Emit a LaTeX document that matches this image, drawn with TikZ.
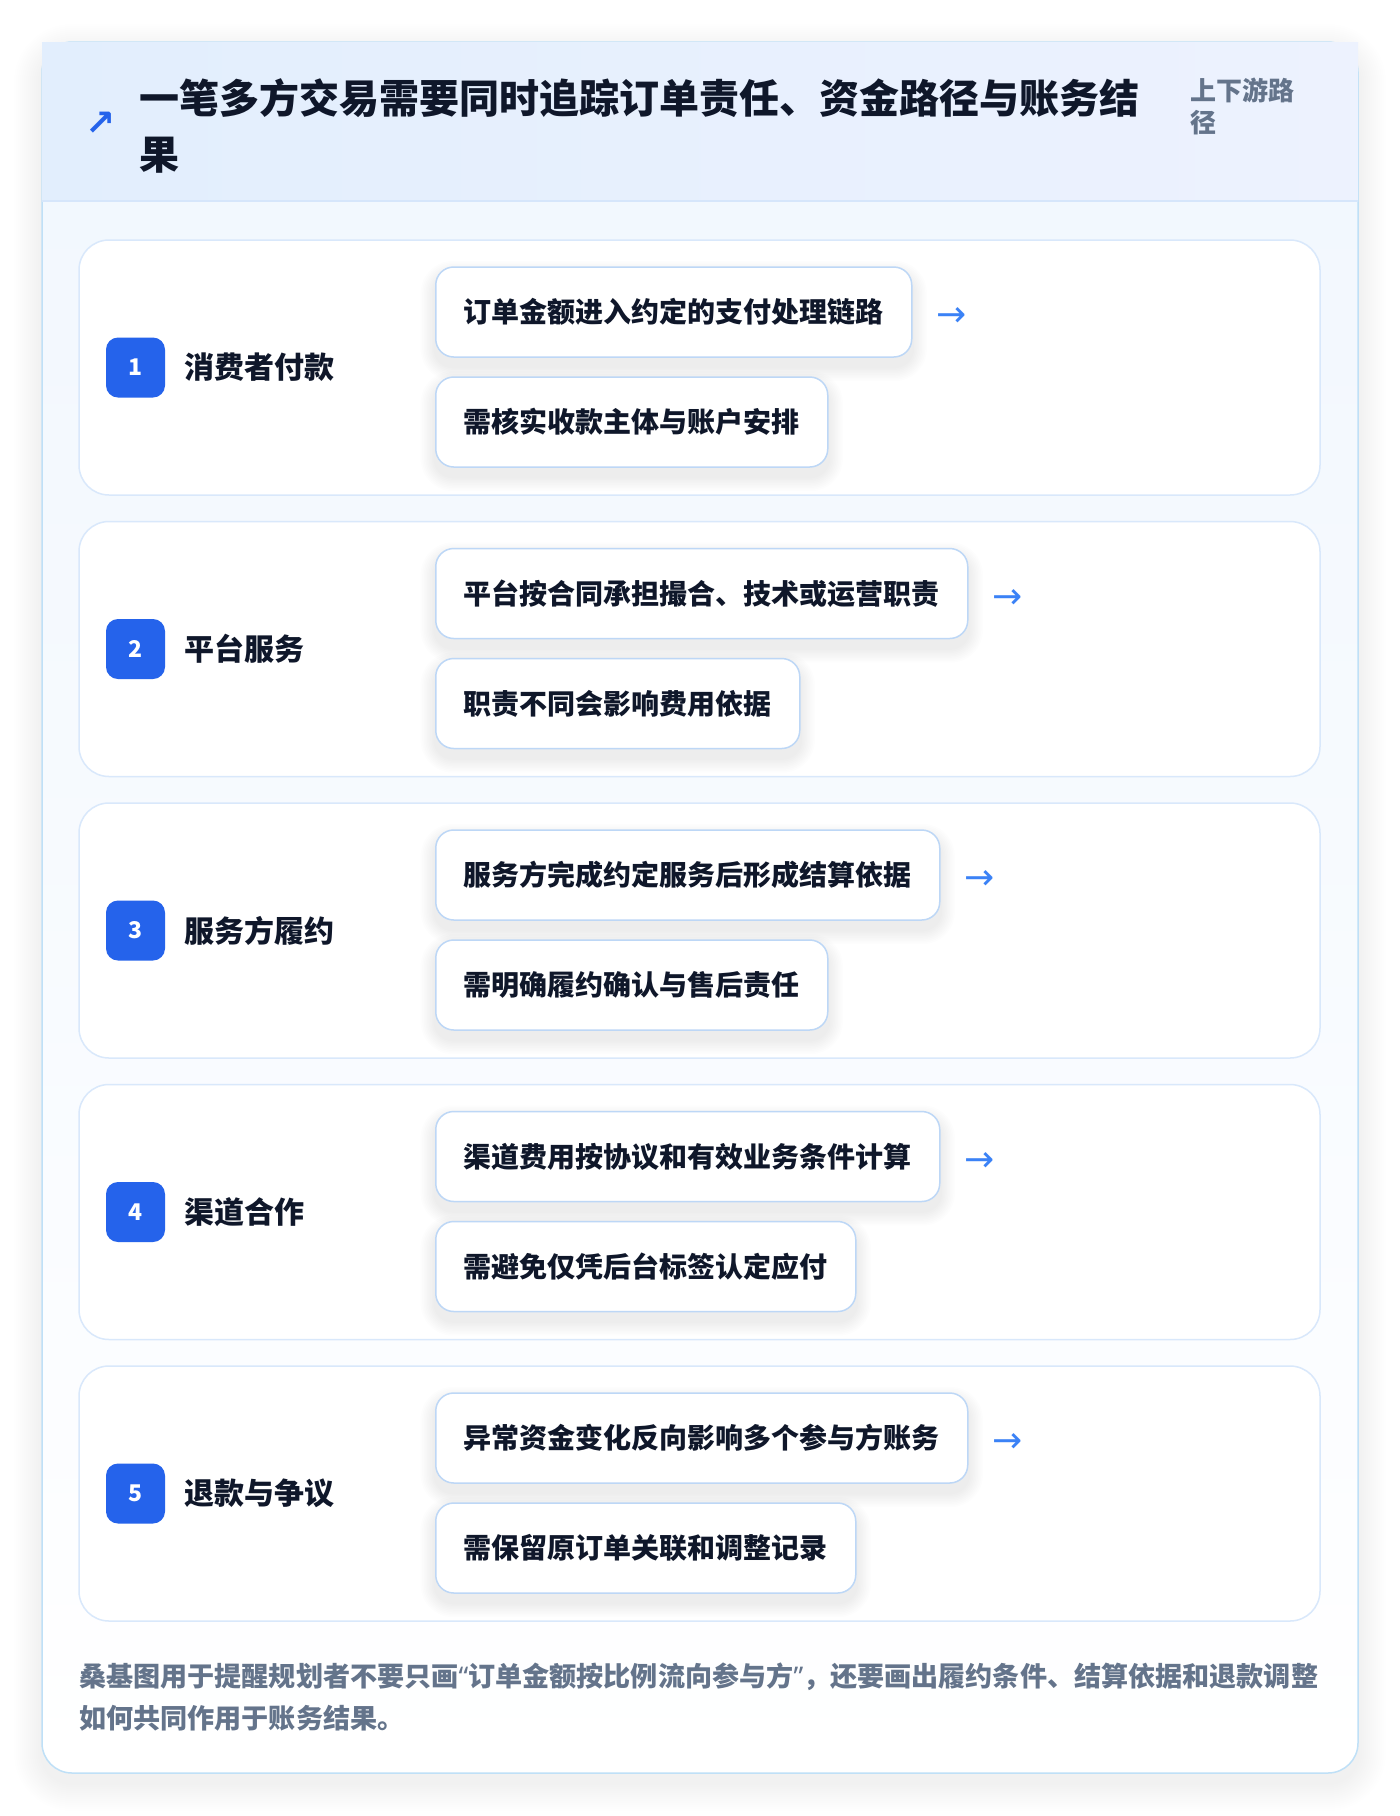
\documentclass[tikz,border=0pt]{standalone}
\usepackage{fontspec}
\setmainfont{Noto Sans CJK SC}
\newfontfamily\dejavu{DejaVu Sans}
\newfontfamily\latinq{Noto Sans}
\definecolor{headL}{HTML}{E2EEFD}
\definecolor{headR}{HTML}{EDF2FE}
\definecolor{headLine}{HTML}{D6E6FB}
\definecolor{cardBorder}{HTML}{BFE0F7}
\definecolor{cardTop}{HTML}{F1F7FE}
\definecolor{rowBorder}{HTML}{D9E8FB}
\definecolor{subBorder}{HTML}{BDD7F6}
\definecolor{badgeBlue}{HTML}{2563EB}
\definecolor{ink}{HTML}{0F172A}
\definecolor{slate}{HTML}{64748B}
\definecolor{arrBlue}{HTML}{3B82F6}
\pgfdeclarelayer{bg}
\pgfdeclarelayer{shade}
\pgfsetlayers{bg,shade,main}
\tikzset{
  rowbox/.style={draw=rowBorder, line width=1.5pt, fill=white, rounded corners=30pt,
    minimum width=1241pt, minimum height=255pt, inner sep=0pt},
  badge/.style={fill=badgeBlue, rounded corners=12pt, minimum width=59pt, minimum height=60pt,
    inner sep=0pt, text=white, font=\fontsize{23}{26}\selectfont\bfseries},
  lab/.style={inner sep=0pt, text=ink, font=\fontsize{30}{36}\selectfont\bfseries},
  subbox/.style={draw=subBorder, line width=1.5pt, fill=white, rounded corners=18pt,
    minimum height=90pt, inner xsep=28pt, inner ysep=0pt, text=ink,
    font=\fontsize{28}{32}\selectfont\bfseries},
  arr/.style={inner sep=0pt, text=arrBlue, font=\dejavu\fontsize{36}{36}\selectfont},
  foot/.style={inner sep=0pt, anchor=west, text=slate, font=\fontsize{27.1}{30}\selectfont\bfseries},
}
\begin{document}
\begin{tikzpicture}[x=1pt,y=-1pt]
\useasboundingbox (0,0) rectangle (1400,1816);
\begin{pgfonlayer}{bg}
\fill[white] (0,0) rectangle (1400,1816);
% soft shadow of outer card
\foreach \k in {1,...,14}{
  \fill[black, opacity=0.005, rounded corners={30+2*\k}]
    ({42-2*\k},{42-2*\k+10}) rectangle ({1358+2*\k},{1773+2*\k+10});
}
\path[rounded corners=30pt, top color=cardTop, bottom color=white, middle color=cardTop!55!white]
  (42,42) rectangle (1358,1773);
\draw[rounded corners=30pt, draw=cardBorder, line width=1.5pt] (42,42) rectangle (1358,1773);
% header
\path[left color=headL, right color=headR] (42,42) rectangle (1358,201);
\draw[headLine, line width=1.5pt] (42,201) -- (1358,201);
\end{pgfonlayer}
\node[inner sep=0pt, text=badgeBlue, font=\dejavu\bfseries\fontsize{36}{36}\selectfont] (icon) at (101,124) {↗};
\node[inner sep=0pt, anchor=west, text=ink, font=\fontsize{40}{48}\selectfont\bfseries] (title1) at (139,98) {一笔多方交易需要同时追踪订单责任、资金路径与账务结};
\node[inner sep=0pt, anchor=west, text=ink, font=\fontsize{40}{48}\selectfont\bfseries] (title2) at (139,155) {果};
\node[inner sep=0pt, anchor=west, text=slate, font=\fontsize{26}{30}\selectfont\bfseries] (tag1) at (1190,90) {上下游路};
\node[inner sep=0pt, anchor=west, text=slate, font=\fontsize{26}{30}\selectfont\bfseries] (tag2) at (1190,123) {径};
% rows
\foreach \i/\lab/\ta/\tb in {
  1/消费者付款/订单金额进入约定的支付处理链路/需核实收款主体与账户安排,
  2/平台服务/平台按合同承担撮合、技术或运营职责/职责不同会影响费用依据,
  3/服务方履约/服务方完成约定服务后形成结算依据/需明确履约确认与售后责任,
  4/渠道合作/渠道费用按协议和有效业务条件计算/需避免仅凭后台标签认定应付,
  5/退款与争议/异常资金变化反向影响多个参与方账务/需保留原订单关联和调整记录}
{
  \pgfmathsetmacro\cy{367.5+281.5*(\i-1)}
  \begin{pgfonlayer}{bg}
    \node[rowbox] (row\i) at (699.5,\cy) {};
  \end{pgfonlayer}
  \node[badge] (badge\i) at (135.5,\cy) {\i};
  \node[lab, anchor=west] (lab\i) at (184,\cy) {\lab};
  \node[subbox, anchor=west] (a\i) at (435,\cy-55.5) {\ta};
  \node[subbox, anchor=west] (b\i) at (435,\cy+54.5) {\tb};
  \node[arr, anchor=west] (arr\i) at ([xshift=24pt,yshift=-5pt]a\i.east) {→};
  \begin{pgfonlayer}{shade}
    \foreach \n in {a\i,b\i}{
      \foreach \k in {1,...,9}{
        \fill[black, opacity=0.008, rounded corners={18+1.6*\k}]
          ([xshift={-1.6*\k}, yshift={1.6*\k-9}]\n.north west) rectangle ([xshift={1.6*\k}, yshift={-1.6*\k-9}]\n.south east);
      }
    }
  \end{pgfonlayer}
}
% footer
\node[foot] (foot1) at (79,1677) {桑基图用于提醒规划者不要只画{\latinq “}订单金额按比例流向参与方{\latinq ”}，还要画出履约条件、结算依据和退款调整};
\node[foot] (foot2) at (79,1718) {如何共同作用于账务结果。};
\end{tikzpicture}
\end{document}
